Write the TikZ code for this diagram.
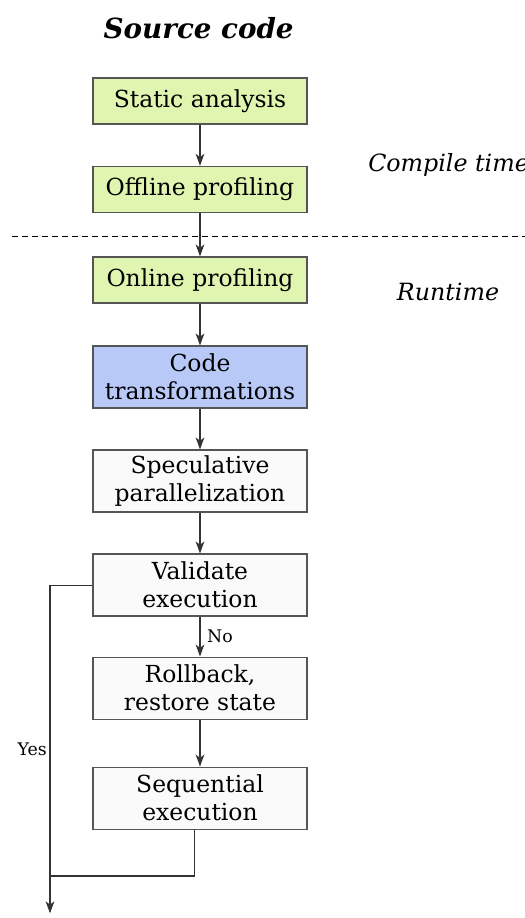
\documentclass[tikz,border=0pt]{standalone}
\usepackage{fontspec}
\setmainfont{DejaVu Serif}
\usetikzlibrary{arrows.meta,positioning,calc}

\definecolor{stagegreen}{HTML}{E0F5B0}
\definecolor{stageblue}{HTML}{B8C9F8}
\definecolor{stagewhite}{HTML}{FAFAFA}
\definecolor{boxline}{HTML}{555555}

\tikzset{
  stage/.style={draw=boxline, line width=1pt, minimum width=160.5pt, minimum height=34.5pt,
    align=center, font=\fontsize{17.6}{21}\selectfont, inner sep=1pt},
  twoline/.style={minimum height=46.5pt},
  flow/.style={-{Stealth[length=9pt,width=6.5pt,inset=2.5pt]}, draw=black!80, line width=0.8pt},
  phase/.style={font=\itshape\fontsize{17.8}{21}\selectfont},
  answer/.style={font=\fontsize{13}{15}\selectfont}
}

\begin{document}
\begin{tikzpicture}[auto]
	\useasboundingbox (0pt,0pt) rectangle (393.75pt,-688.5pt);
	\node (src) at (149pt,-21pt) {\bfseries\itshape\fontsize{20.8}{24}\selectfont Source code};
	\node (sa) [stage, fill=stagegreen] at (150pt,-75.75pt) {Static analysis};
	\node (off) [stage, fill=stagegreen, node distance=66.4pt, below of=sa] {Offline profiling};
	\node (on) [stage, fill=stagegreen, node distance=67.9pt, below of=off] {Online profiling};
	\node (ct) [stage, twoline, fill=stageblue, node distance=72.8pt, below of=on] {Code\\transformations};
	\node (sp) [stage, twoline, fill=stagewhite, node distance=78pt, below of=ct] {Speculative\\parallelization};
	\node (val) [stage, twoline, fill=stagewhite, node distance=78pt, below of=sp] {Validate\\execution};
	\node (rb) [stage, twoline, fill=stagewhite, node distance=77.3pt, below of=val] {Rollback,\\restore state};
	\node (seq) [stage, twoline, fill=stagewhite, node distance=82.5pt, below of=rb] {Sequential\\execution};
	\node (ctime) [phase, anchor=west, inner sep=0pt] at (276pt,-123.5pt) {Compile time};
	\node (rtime) [phase] at (336pt,-219pt) {Runtime};
	\coordinate (out) at (37.5pt,-685pt);
	\coordinate (join) at (37.5pt,-657pt);
	% split between compile time and runtime
	\draw[line width=0.7pt, dash pattern=on 4.5pt off 3pt] (9pt,-177pt) -- (393.75pt,-177pt);
	\draw[flow] (sa) to (off);
	\draw[flow] (off) to (on);
	\draw[flow] (on) to (ct);
	\draw[flow] (ct) to (sp);
	\draw[flow] (sp) to (val);
	\draw[flow] (val) to node [answer, inner sep=5pt] {No} (rb);
	\draw[flow] (rb) to (seq);
	\draw[flow] (val.west) -| node [answer, pos=0.75, left, inner sep=2pt] {Yes} (out);
	\draw[draw=black!80, line width=0.8pt] ($(seq.south)+(-4pt,0)$) |- (join);
\end{tikzpicture}
\end{document}
